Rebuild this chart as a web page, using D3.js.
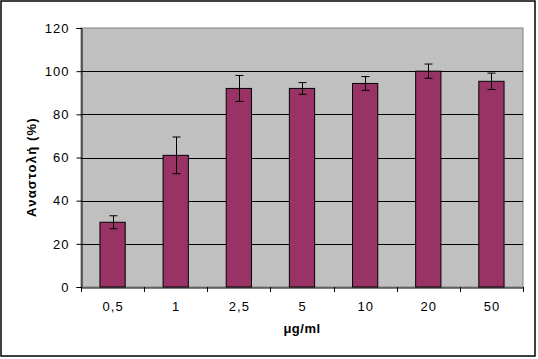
<!DOCTYPE html>
<html><head><meta charset="utf-8">
<script src="https://cdn.jsdelivr.net/npm/d3@7"></script>
<style>body{margin:0;background:#fff}svg{display:block;font-family:"Liberation Sans",Arial,sans-serif}</style>
</head><body><svg id="c" width="538" height="359"></svg>
<script>
const categories = ["0,5","1","2,5","5","10","20","50"];
const values = [30, 61, 92, 92, 94.3, 100, 95.3];
const errors = [3, 8.5, 6, 2.7, 3.2, 3.3, 3.8];
const yTicks = [0,20,40,60,80,100,120];
const yTitle = "Αναστολή (%)";
const xTitle = "μg/ml";

const svg = d3.select("#c");
const m = {l:81, t:28, r:523, b:287};
svg.append("rect").attr("x",1).attr("y",1).attr("width",534).attr("height",355)
  .attr("fill","#fff").attr("stroke","#000").attr("stroke-width",1.5);

const x = d3.scaleBand().domain(categories).range([m.l,m.r]).paddingInner(0.6).paddingOuter(0.3);
const y = d3.scaleLinear().domain([0,120]).range([m.b,m.t]);

svg.append("rect").attr("x",m.l).attr("y",m.t).attr("width",m.r-m.l).attr("height",m.b-m.t)
  .attr("fill","#c0c0c0").attr("stroke","#808080").attr("stroke-width",1);

svg.append("g").selectAll("line").data(yTicks.filter(d=>d>0 && d<120)).join("line")
  .attr("x1",m.l).attr("x2",m.r).attr("y1",d=>Math.round(y(d))+0.5).attr("y2",d=>Math.round(y(d))+0.5)
  .attr("stroke","#000").attr("stroke-width",1);

svg.append("g").selectAll("rect").data(values).join("rect")
  .attr("x",(d,i)=>x(categories[i])).attr("width",x.bandwidth())
  .attr("y",d=>y(d)).attr("height",d=>m.b-y(d))
  .attr("fill","#993366").attr("stroke","#000").attr("stroke-width",1);

const eg = svg.append("g").attr("stroke","#000").attr("stroke-width",1);
values.forEach((v,i)=>{
  const cx = Math.round(x(categories[i])+x.bandwidth()/2)+0.5;
  eg.append("line").attr("x1",cx).attr("x2",cx).attr("y1",y(v+errors[i])).attr("y2",y(v-errors[i]));
  [v+errors[i], v-errors[i]].forEach(e=>{
    eg.append("line").attr("x1",cx-4).attr("x2",cx+4).attr("y1",y(e)).attr("y2",y(e));
  });
});

const yAxis = svg.append("g").attr("transform",`translate(${m.l+0.5},0)`)
  .call(d3.axisLeft(y).tickValues(yTicks).tickSize(5).tickPadding(7));
const xAxis = svg.append("g").attr("transform",`translate(0,${m.b+0.5})`)
  .call(d3.axisBottom(x).tickSize(0).tickPadding(14));
[yAxis,xAxis].forEach(a=>{
  a.select(".domain").attr("stroke","#000");
  a.selectAll("text").attr("font-size",13).attr("letter-spacing","1px").attr("fill","#000").attr("font-family",'"Liberation Sans",Arial,sans-serif');
  a.selectAll("line").attr("stroke","#000");
});
xAxis.selectAll("text").attr("dx","0.5px");
const bounds = d3.range(categories.length+1).map(i=>m.l + i*(m.r-m.l)/categories.length);
svg.append("g").selectAll("line").data(bounds).join("line")
  .attr("x1",d=>Math.round(d)+0.5).attr("x2",d=>Math.round(d)+0.5).attr("y1",m.b).attr("y2",m.b+5)
  .attr("stroke","#000");

svg.append("text").attr("transform",`translate(36,167) rotate(-90)`).attr("text-anchor","middle")
  .attr("font-size",13).attr("letter-spacing","1.2px").attr("font-weight","bold").text(yTitle);
svg.append("text").attr("x",(m.l+m.r)/2).attr("y",333).attr("text-anchor","middle")
  .attr("font-size",13).attr("letter-spacing","0.5px").attr("font-weight","bold").text(xTitle);
</script></body></html>
